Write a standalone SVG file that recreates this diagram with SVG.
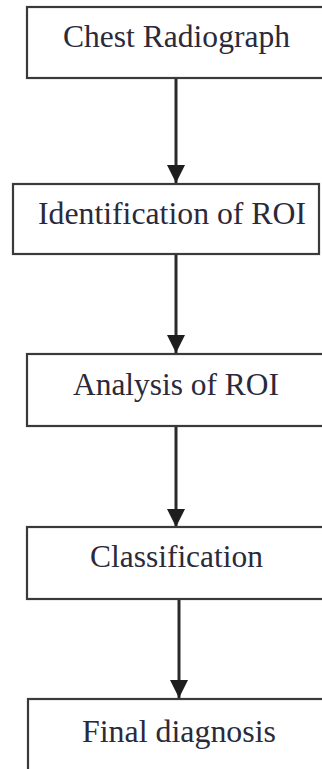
<svg xmlns="http://www.w3.org/2000/svg" width="322" height="769" viewBox="0 0 322 769">
  <style>
    .box { fill: #ffffff; stroke: #3a3a3a; stroke-width: 2.2; }
    .label { font-family: "Liberation Serif", "Times New Roman", serif; font-size: 31px; fill: #2a2a3a; text-anchor: middle; }
    .edge { stroke: #2a2a2a; stroke-width: 3; fill: none; }
  </style>
  <defs>
    <marker id="arrow" markerUnits="userSpaceOnUse" markerWidth="20" markerHeight="20" refX="18" refY="9" orient="auto">
      <path d="M0,0 L18,9 L0,18 Z" fill="#1e1e1e"/>
    </marker>
  </defs>
  <rect width="322" height="769" fill="#ffffff"/>

  <g id="connectors">
    <line class="edge" x1="176" y1="79" x2="176" y2="183" marker-end="url(#arrow)"/>
    <line class="edge" x1="176" y1="255" x2="176" y2="353" marker-end="url(#arrow)"/>
    <line class="edge" x1="176" y1="427" x2="176" y2="527" marker-end="url(#arrow)"/>
    <line class="edge" x1="179" y1="600" x2="179" y2="698" marker-end="url(#arrow)"/>
  </g>

  <g id="node-chest-radiograph">
    <rect class="box" x="27" y="7" width="310" height="71"/>
    <text class="label" x="176.5" y="47" textLength="227" lengthAdjust="spacingAndGlyphs">Chest Radiograph</text>
  </g>

  <g id="node-identification">
    <rect class="box" x="13" y="184" width="306" height="70"/>
    <text class="label" x="172" y="224" textLength="268" lengthAdjust="spacingAndGlyphs">Identification of ROI</text>
  </g>

  <g id="node-analysis">
    <rect class="box" x="27" y="354" width="310" height="72"/>
    <text class="label" x="176" y="395" textLength="206" lengthAdjust="spacingAndGlyphs">Analysis of ROI</text>
  </g>

  <g id="node-classification">
    <rect class="box" x="27" y="527" width="310" height="72"/>
    <text class="label" x="176.5" y="567" textLength="173" lengthAdjust="spacingAndGlyphs">Classification</text>
  </g>

  <g id="node-final-diagnosis">
    <rect class="box" x="28" y="699" width="310" height="90"/>
    <text class="label" x="179" y="742" textLength="194" lengthAdjust="spacingAndGlyphs">Final diagnosis</text>
  </g>
</svg>
